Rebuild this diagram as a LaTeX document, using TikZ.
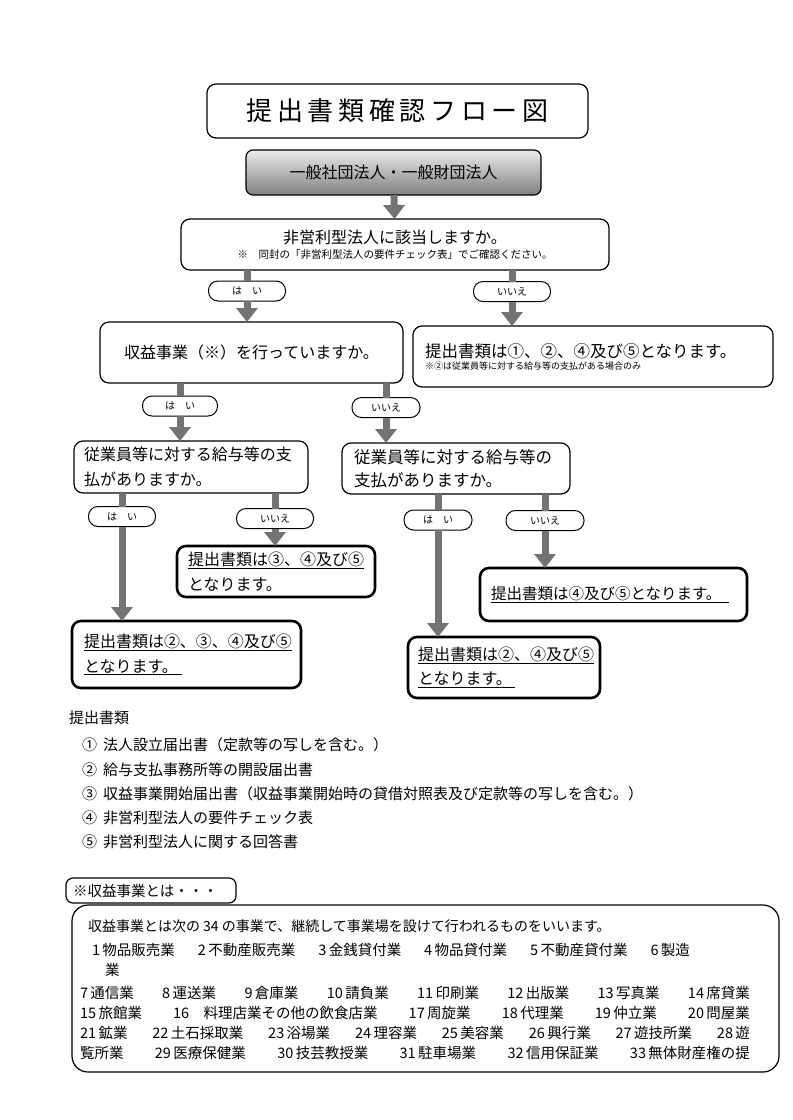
\documentclass[tikz,border=0pt]{standalone}
\usepackage{fontspec}
\setmainfont{Noto Sans CJK JP}
\usetikzlibrary{arrows.meta}
\newcommand\fsz[2]{\fontsize{#1}{#2}\selectfont}

\begin{document}
\begin{tikzpicture}[
            x = 1pt, y = -1pt,
            every node/.style={inner sep=0pt, outer sep=0pt},
            box/.style={draw, line width = 1.2pt, rounded corners = 9pt, fill=white},
            thickbox/.style={box, line width = 2.6pt},
            pill/.style={draw, line width = 1pt, rounded corners = 9.5pt, fill=white, minimum height = 20pt, font=\fsz{10}{12}},
            bar/.style={line width = 7pt, draw=black!55},
            arrow/.style={bar, -{Triangle[width=21pt, length=14pt]}},
            ]

        \fill[white] (0, 0) rectangle (793, 1120);
        \useasboundingbox (0, 0) rectangle (793, 1120);

        % flow
        \node[box, minimum width = 381pt, minimum height = 54pt, font=\fsz{26}{30}] (title) at (397.5, 111) {\addfontfeature{LetterSpace=18}提出書類確認フロー図};
        \node[box, rounded corners = 7pt, top color=black!8, bottom color=black!50, minimum width = 295pt, minimum height = 45pt, font=\fsz{16}{18}] (start) at (393.5, 172.5) {一般社団法人・一般財団法人};
        \node[box, minimum width = 428pt, minimum height = 51pt, align=center] (q1) at (395, 244.5) {\fsz{16}{21}非営利型法人に該当しますか。\\[3pt]\fsz{10.5}{13}※　同封の「非営利型法人の要件チェック表」でご確認ください。};
        \node[pill, minimum width = 77pt] (yes1) at (247, 291) {は　い};
        \node[pill, minimum width = 77pt] (no1) at (512, 291.5) {いいえ};

        \node[box, minimum width = 303pt, minimum height = 61pt, font=\fsz{16}{20}] (q2) at (251.5, 352.5) {収益事業（※）を行っていますか。};
        \node[box, minimum width = 360pt, minimum height = 61pt, text width = 336pt, align=left] (r1) at (593, 356.5) {\fsz{16.5}{23}提出書類は①、②、④及び⑤となります。\\\fsz{9}{12}※②は従業員等に対する給与等の支払がある場合のみ};
        \node[pill, minimum width = 75pt] (yes2) at (180, 406) {は　い};
        \node[pill, minimum width = 68pt] (no2) at (386, 407.5) {いいえ};

        \node[box, minimum width = 234pt, minimum height = 52pt, text width = 214pt, align=left, font=\fsz{16}{25}] (q3) at (191, 467) {従業員等に対する給与等の支\\払がありますか。};
        \node[box, minimum width = 228pt, minimum height = 51pt, text width = 204pt, align=left, font=\fsz{16.5}{23}] (q4) at (456, 468.5) {従業員等に対する給与等の\\支払がありますか。};
        \node[pill, minimum width = 67pt] (yes3) at (122, 516.5) {は　い};
        \node[pill, minimum width = 77pt] (no3) at (275, 518.5) {いいえ};
        \node[pill, minimum width = 68pt] (yes4) at (438, 520) {は　い};
        \node[pill, minimum width = 78pt] (no4) at (545, 520.5) {いいえ};

        \node[thickbox, minimum width = 198pt, minimum height = 51pt, text width = 176pt, align=left, font=\fsz{16}{25}] (r3) at (276, 571.5) {\underline{提出書類は③、④及び⑤}\\となります。};
        \node[thickbox, minimum width = 229pt, minimum height = 67pt, text width = 205pt, align=left, font=\fsz{16}{25}] (r2) at (186.5, 654.5) {\underline{提出書類は②、③、④及び⑤}\\\underline{となります。\hspace{4pt}}};
        \node[thickbox, minimum width = 267pt, minimum height = 53pt, text width = 245pt, align=left, font=\fsz{15.5}{20}] (r5) at (613.5, 594.5) {\underline{提出書類は④及び⑤となります。\hspace{8pt}}};
        \node[thickbox, minimum width = 192pt, minimum height = 61pt, text width = 172pt, align=left, font=\fsz{16}{24}] (r4) at (504, 667.5) {\underline{提出書類は②、④及び⑤}\\\underline{となります。\hspace{3pt}}};

        \draw[arrow] (start) -- (q1);
        \draw[bar] (q1.south -| yes1) -- (yes1);
        \draw[arrow] (yes1) -- (yes1 |- q2.north);
        \draw[bar] (q1.south -| no1) -- (no1);
        \draw[arrow] (no1) -- (no1 |- r1.north);
        \draw[bar] (q2.south -| yes2) -- (yes2);
        \draw[arrow] (yes2) -- (yes2 |- q3.north);
        \draw[bar] (q2.south -| no2) -- (no2);
        \draw[arrow] (no2) -- (no2 |- q4.north);
        \draw[bar] (q3.south -| yes3) -- (yes3);
        \draw[arrow] (yes3) -- (yes3 |- r2.north);
        \draw[bar] (q3.south -| no3) -- (no3);
        \draw[arrow] (no3) -- (no3 |- r3.north);
        \draw[bar] (q4.south -| yes4) -- (yes4);
        \draw[arrow] (yes4) -- (yes4 |- r4.north);
        \draw[bar] (q4.south -| no4) -- (no4);
        \draw[arrow] (no4) -- (no4 |- r5.north);

        % documents
        \node[anchor=west, font=\fsz{15}{18}] (docs) at (69, 718) {提出書類};
        \node[anchor=west, font=\fsz{15}{18}] (doc1) at (82, 745) {①\hspace{6pt}法人設立届出書（定款等の写しを含む。）};
        \node[anchor=west, font=\fsz{15}{18}] (doc2) at (82, 769.5) {②\hspace{6pt}給与支払事務所等の開設届出書};
        \node[anchor=west, font=\fsz{15}{18}] (doc3) at (82, 794) {③\hspace{6pt}収益事業開始届出書（収益事業開始時の貸借対照表及び定款等の写しを含む。）};
        \node[anchor=west, font=\fsz{15}{18}] (doc4) at (82, 818) {④\hspace{6pt}非営利型法人の要件チェック表};
        \node[anchor=west, font=\fsz{15}{18}] (doc5) at (82, 842) {⑤\hspace{6pt}非営利型法人に関する回答書};

        % note
        \node[draw, line width = 1.2pt, rounded corners = 16pt, minimum width = 707pt, minimum height = 167pt] (frame) at (425.5, 988.5) {};
        \node[box, rounded corners = 7pt, minimum width = 170pt, minimum height = 25pt, text width = 156pt, align=left, font=\fsz{14.5}{16}] (tab) at (151, 890.5) {※収益事業とは・・・};
        \node[anchor=west, font=\fsz{14}{16}] (l0) at (88, 926) {収益事業とは次の 34 の事業で、継続して事業場を設けて行われるものをいいます。};
        \node[anchor=west, font=\fsz{14.5}{16}] (l1) at (92, 950) {\makebox[598pt][s]{1\,物品販売業 2\,不動産販売業 3\,金銭貸付業 4\,物品貸付業 5\,不動産貸付業 6\,製造}};
        \node[anchor=west, font=\fsz{14.5}{16}] (l2) at (105, 970) {業};
        \node[anchor=west, font=\fsz{14.5}{16}] (l3) at (80, 993) {\makebox[670pt][s]{7\,通信業 8\,運送業 9\,倉庫業 10\,請負業 11\,印刷業 12\,出版業 13\,写真業 14\,席貸業}};
        \node[anchor=west, font=\fsz{14.5}{16}] (l4) at (80, 1013) {\makebox[670pt][s]{15\,旅館業 16\quad 料理店業その他の飲食店業 17\,周旋業 18\,代理業 19\,仲立業 20\,問屋業}};
        \node[anchor=west, font=\fsz{14.5}{16}] (l5) at (80, 1033) {\makebox[670pt][s]{21\,鉱業 22\,土石採取業 23\,浴場業 24\,理容業 25\,美容業 26\,興行業 27\,遊技所業 28\,遊}};
        \node[anchor=west, font=\fsz{14.5}{16}] (l6) at (80, 1053) {\makebox[670pt][s]{覧所業 29\,医療保健業 30\,技芸教授業 31\,駐車場業 32\,信用保証業 33\,無体財産権の提}};
    \end{tikzpicture}
\end{document}
